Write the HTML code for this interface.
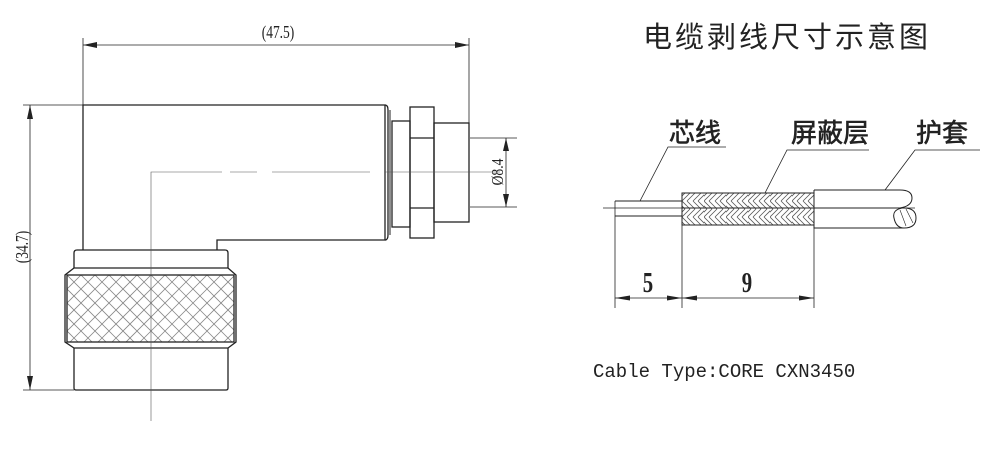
<!DOCTYPE html>
<html><head><meta charset="utf-8"><style>
html,body{margin:0;padding:0;background:#fff;}
svg{display:block;}
</style></head><body>
<svg width="1000" height="452" viewBox="0 0 1000 452" xmlns="http://www.w3.org/2000/svg">
<defs>
<clipPath id="kc"><rect x="67" y="275" width="167" height="67"/></clipPath>
<pattern id="br" width="22" height="16" patternUnits="userSpaceOnUse" x="682" y="193">
<path d="M0 8L8 0M5 8L13 0M11 8L19 0M16 8L24 0M-5 8L3 0 M0 8L8 16M5 8L13 16M11 8L19 16M16 8L24 16M-5 8L3 16" stroke="#555" stroke-width="0.8"/>
</pattern>
</defs>
<g fill="none" stroke="#222" stroke-width="1.3">
<line x1="83" y1="38" x2="83" y2="105" stroke-width="0.8"/>
<line x1="469" y1="38" x2="469" y2="123" stroke-width="0.8"/>
<line x1="83" y1="45" x2="469" y2="45" stroke-width="0.8"/>
<path d="M83 45l14-3v6z M469 45l-14-3v6z" fill="#222" stroke="none"/>
<line x1="23" y1="105" x2="83" y2="105" stroke-width="0.8"/>
<line x1="23" y1="390" x2="74" y2="390" stroke-width="0.8"/>
<line x1="30" y1="105" x2="30" y2="390" stroke-width="0.8"/>
<path d="M30 105l-3 14h6z M30 390l-3-14h6z" fill="#222" stroke="none"/>
<path d="M83 250V105H385V240H217V250"/>
<path d="M385 105q3 0 3 5V235q0 5-3 5" />
<line x1="390" y1="110" x2="390" y2="235" stroke-width="1"/>
<rect x="392" y="121" width="18" height="106"/>
<rect x="410" y="107" width="24" height="131"/>
<line x1="410" y1="138" x2="434" y2="138"/>
<line x1="410" y1="208" x2="434" y2="208"/>
<rect x="434" y="123" width="35" height="99"/>
<line x1="470" y1="138" x2="517" y2="138" stroke-width="0.8"/>
<line x1="470" y1="207" x2="517" y2="207" stroke-width="0.8"/>
<line x1="506" y1="138" x2="506" y2="207" stroke-width="0.8"/>
<path d="M506 138l-3 13h6z M506 207l-3-13h6z" fill="#222" stroke="none"/>
<path d="M74 268V253q0-3 3-3H225q3 0 3 3V268"/>
<path d="M74 268H228L236 275V342L228 348H74L65 342V275Z"/>
<g clip-path="url(#kc)" stroke="#888" stroke-width="0.8">
<path d="M-3 275l67 67M11 275l67 67M25 275l67 67M39 275l67 67M53 275l67 67M67 275l67 67M81 275l67 67M95 275l67 67M109 275l67 67M123 275l67 67M137 275l67 67M151 275l67 67M165 275l67 67M179 275l67 67M193 275l67 67M207 275l67 67M221 275l67 67"/>
<path d="M0 342l67-67M14 342l67-67M28 342l67-67M42 342l67-67M56 342l67-67M70 342l67-67M84 342l67-67M98 342l67-67M112 342l67-67M126 342l67-67M140 342l67-67M154 342l67-67M168 342l67-67M182 342l67-67M196 342l67-67M210 342l67-67M224 342l67-67"/>
</g>
<rect x="67" y="275" width="167" height="67"/>
<path d="M74 348V388q0 2 2 2H226q2 0 2-2V348"/>
<path d="M151 421V172H222 M230 172H257 M272 172H370 M385 172H500" stroke-width="0.6" stroke="#555"/>
</g>
<text text-anchor="middle" transform="translate(278 38) scale(0.75 1)" font-family="'Liberation Serif',serif" fill="#222" font-size="18">(47.5)</text>
<text text-anchor="middle" transform="translate(28 247) rotate(-90) scale(0.75 1)" font-family="'Liberation Serif',serif" fill="#222" font-size="18">(34.7)</text>
<text text-anchor="middle" transform="translate(503 172) rotate(-90) scale(0.8 1)" font-family="'Liberation Serif',serif" fill="#222" font-size="17">Ø8.4</text>
<text x="643" y="47" font-family="'Liberation Sans','Noto Sans CJK SC',sans-serif" font-size="29" fill="#222" letter-spacing="3">电缆剥线尺寸示意图</text>
<g fill="none" stroke="#222" stroke-width="1">
<line x1="603" y1="208" x2="915" y2="208" stroke-width="0.8"/>
<line x1="615" y1="201" x2="682" y2="201"/>
<line x1="615" y1="216" x2="682" y2="216"/>
<rect x="682" y="193" width="132" height="32" fill="url(#br)"/>
<line x1="682" y1="208" x2="814" y2="208"/>
<path d="M814 190H900q12 0 12 8q0 8-12 10H814 M814 190V228H902 M902 208q-10 2-8 10q2 10 10 10q12 0 12-10q0-10-12-10Z"/>
<path d="M900 210l6 16M906 209l7 14" stroke-width="0.6"/>
<line x1="615" y1="201" x2="615" y2="308" stroke-width="0.8"/>
<line x1="682" y1="193" x2="682" y2="308" stroke-width="0.8"/>
<line x1="814" y1="190" x2="814" y2="308" stroke-width="0.8"/>
<line x1="615" y1="298" x2="814" y2="298" stroke-width="0.8"/>
<path d="M615 298l15-2.5v5z M682 298l-15-2.5v5z M682 298l15-2.5v5z M814 298l-15-2.5v5z" fill="#222" stroke="none"/>
<path d="M640 201L668 147H726" stroke-width="0.8"/>
<path d="M765 193L787 150H869" stroke-width="0.8"/>
<path d="M885 190L915 150H980" stroke-width="0.8"/>
</g>
<g font-family="'Liberation Sans','Noto Sans CJK SC',sans-serif" font-size="26" fill="#222" stroke="#222" stroke-width="0.6">
<text x="669" y="142">芯线</text>
<text x="791" y="142">屏蔽层</text>
<text x="916" y="142">护套</text>
</g>
<g font-family="'Liberation Serif',serif" font-size="26" font-weight="bold" fill="#222" text-anchor="middle">
<text transform="translate(648 292) scale(0.8 1.1)">5</text>
<text transform="translate(747 292) scale(0.8 1.1)">9</text>
</g>
<text x="593" y="377" font-family="'Liberation Mono',monospace" font-size="19" fill="#222">Cable Type:CORE CXN3450</text>
</svg>
</body></html>
